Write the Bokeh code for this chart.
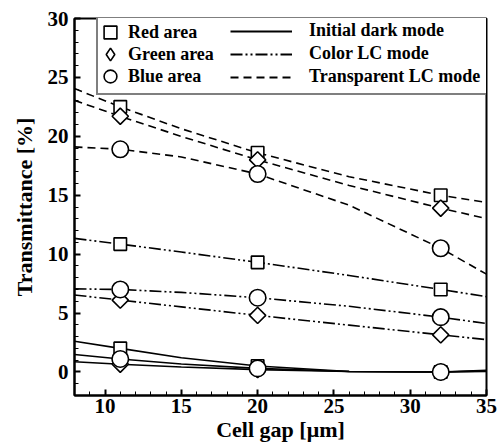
import math
from bokeh.plotting import figure
from bokeh.models import Range1d, Legend, LegendItem, FixedTicker
from bokeh.embed import file_html
from bokeh.resources import INLINE

# measured points
gap = [11, 20, 32]
red_dark = [2.0, 0.5, 0.0]
green_dark = [0.65, 0.2, 0.0]
blue_dark = [1.1, 0.3, 0.0]
red_color = [10.85, 9.3, 7.0]
green_color = [6.1, 4.8, 3.15]
blue_color = [7.0, 6.3, 4.65]
red_trans = [22.5, 18.6, 15.0]
green_trans = [21.7, 18.0, 13.9]
blue_trans = [18.9, 16.8, 10.5]

# fitted curves
fit_gap = [8, 11, 15, 20, 26, 32, 35]
fit_red_dark = [2.6, 2.0, 1.21, 0.5, 0.04, 0.0, 0.14]
fit_green_dark = [0.86, 0.65, 0.42, 0.2, 0.04, 0.0, 0.05]
fit_blue_dark = [1.48, 1.1, 0.68, 0.3, 0.04, 0.0, 0.08]
fit_red_color = [11.34, 10.85, 10.18, 9.3, 8.19, 7.0, 6.39]
fit_green_color = [6.53, 6.1, 5.52, 4.8, 3.97, 3.15, 2.74]
fit_blue_color = [7.05, 7.0, 6.75, 6.3, 5.57, 4.65, 4.11]
fit_red_trans = [24.05, 22.5, 20.64, 18.6, 16.57, 15.0, 14.39]
fit_green_trans = [23.05, 21.7, 19.99, 18.0, 15.83, 13.9, 13.02]
fit_blue_trans = [19.1, 18.9, 18.25, 16.8, 14.15, 10.5, 8.3]

x_ticks = [10, 15, 20, 25, 30, 35]
y_ticks = [0, 5, 10, 15, 20, 25, 30]

area_labels = ["Red area", "Green area", "Blue area"]
mode_labels = ["Initial dark mode", "Color LC mode", "Transparent LC mode"]

FONT = "Liberation Serif"
DASH_TRANS = "8 5"
DASH_COLOR = "12 3 2 3 2 3"

p = figure(width=499, height=446, output_backend="svg", toolbar_location=None,
           x_range=Range1d(8, 35), y_range=Range1d(-2, 30),
           min_border_left=74, min_border_right=13, min_border_top=18, min_border_bottom=51)
p.background_fill_color = "white"
p.border_fill_color = "white"
p.grid.visible = False
p.outline_line_color = "black"
p.outline_line_width = 2
p.outline_line_alpha = 1

for ax in (p.xaxis[0], p.yaxis[0]):
    ax.axis_line_width = 2
    ax.major_tick_in = 6
    ax.major_tick_out = 0
    ax.minor_tick_in = 4
    ax.minor_tick_out = 0
    ax.major_tick_line_width = 2
    ax.minor_tick_line_width = 1
    ax.major_label_text_font = FONT
    ax.major_label_text_font_style = "bold"
    ax.major_label_text_font_size = "21px"
    ax.major_label_text_color = "black"
    ax.axis_label_text_font = FONT
    ax.axis_label_text_font_style = "bold"
    ax.axis_label_text_font_size = "22px"
    ax.axis_label_text_color = "black"

p.xaxis.ticker = FixedTicker(ticks=x_ticks, minor_ticks=list(range(8, 36)))
p.yaxis.ticker = FixedTicker(ticks=y_ticks, minor_ticks=list(range(-2, 31)))
p.xaxis.axis_label = "Cell gap [\u03bcm]"
p.yaxis.axis_label = "Transmittance [%]"
p.xaxis.major_label_standoff = 3
p.yaxis.major_label_standoff = 6
p.xaxis.axis_label_standoff = 1
p.yaxis.axis_label_standoff = 8

LW = 1.6
fits = [
    (fit_red_dark, None), (fit_green_dark, None), (fit_blue_dark, None),
    (fit_red_color, DASH_COLOR), (fit_green_color, DASH_COLOR), (fit_blue_color, DASH_COLOR),
    (fit_red_trans, DASH_TRANS), (fit_green_trans, DASH_TRANS), (fit_blue_trans, DASH_TRANS),
]
for ys, dash in fits:
    if dash is None:
        p.line(fit_gap, ys, line_color="black", line_width=LW)
    else:
        p.line(fit_gap, ys, line_color="black", line_width=LW, line_dash=dash)

mk = dict(fill_color="white", line_color="black", line_width=1.6)
for ys in (red_dark, red_color, red_trans):
    p.scatter(gap, ys, marker="square", size=12.5, **mk)
for ys in (green_dark, green_color, green_trans):
    p.scatter(gap, ys, marker="square", size=11.5, angle=math.pi / 4, **mk)
for ys in (blue_dark, blue_color, blue_trans):
    p.scatter(gap, ys, marker="circle", size=16.5, **mk)

# legend-only renderers (hidden in the plot, shown in the legend)
leg_sq = p.scatter(gap, red_trans, marker="square", visible=False, **mk)
leg_di = p.scatter(gap, green_trans, marker="diamond", visible=False, **mk)
leg_ci = p.scatter(gap, blue_trans, marker="circle", visible=False, **mk)
leg_l1 = p.line(fit_gap, fit_red_dark, line_color="black", line_width=2, visible=False)
leg_l2 = p.line(fit_gap, fit_red_color, line_color="black", line_width=2,
                line_dash=DASH_COLOR, visible=False)
leg_l3 = p.line(fit_gap, fit_red_trans, line_color="black", line_width=2,
                line_dash=DASH_TRANS, visible=False)

txt = dict(label_text_font=FONT, label_text_font_style="bold", label_text_font_size="18px",
           label_text_color="black", margin=0, inactive_fill_alpha=0)

# bordered legend with the line styles (also forms the whole box)
legB = Legend(items=[LegendItem(label=mode_labels[0], renderers=[leg_l1]),
                     LegendItem(label=mode_labels[1], renderers=[leg_l2]),
                     LegendItem(label=mode_labels[2], renderers=[leg_l3])],
              location=(22, 300), glyph_width=62, glyph_height=20, label_height=20,
              spacing=2, label_standoff=17,
              padding=dict(left=132, right=23, top=6, bottom=6),
              border_line_color="black", border_line_width=2, background_fill_color="white",
              background_fill_alpha=1, **txt)
p.add_layout(legB, "center")

# marker legends, one per row, drawn over the box
for lab, rend, vy in zip(area_labels, (leg_sq, leg_di, leg_ci), (347, 325, 303)):
    lg = Legend(items=[LegendItem(label=lab, renderers=[rend])],
                location=(20, vy), glyph_width=32, glyph_height=32, label_height=32,
                label_standoff=2, padding=0, spacing=0,
                border_line_alpha=0, background_fill_alpha=0, **txt)
    p.add_layout(lg, "center")

open("out.html", "w").write(file_html(p, INLINE))
